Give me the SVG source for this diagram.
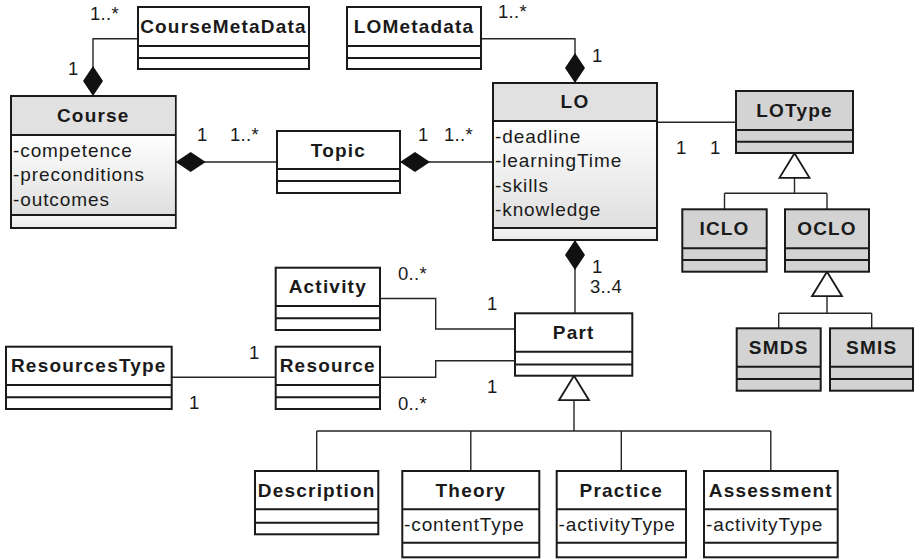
<svg xmlns="http://www.w3.org/2000/svg" width="914" height="559" viewBox="0 0 914 559">
  <style>
    .box { fill: #ffffff; stroke: #1a1a1a; stroke-width: 2; }
    .grey { fill: #d3d3d3; }
    .sep { stroke: #1a1a1a; stroke-width: 2; fill: none; }
    .title { font-family: "Liberation Sans", Arial, sans-serif; font-size: 19px; font-weight: bold; letter-spacing: 1.2px; text-anchor: middle; fill: #1a1a1a; }
    .attr { font-family: "Liberation Sans", Arial, sans-serif; font-size: 19px; letter-spacing: 0.9px; fill: #1a1a1a; }
    .mult { font-family: "Liberation Sans", Arial, sans-serif; font-size: 18.5px; letter-spacing: 0.3px; fill: #1a1a1a; }
    .link { fill: none; stroke: #262626; stroke-width: 1.4; }
    .comp { marker-start: url(#diamond); }
    .gen { marker-start: url(#triangle); }
  </style>
  <defs>
    <linearGradient id="bodyFill" x1="0" y1="0" x2="0" y2="1">
      <stop offset="0" stop-color="#ffffff"/>
      <stop offset="1" stop-color="#dfdfdf"/>
    </linearGradient>
    <linearGradient id="footFill" x1="0" y1="0" x2="0" y2="1">
      <stop offset="0" stop-color="#f6f6f6"/>
      <stop offset="1" stop-color="#ebebeb"/>
    </linearGradient>
    <!-- filled diamond: composition end, tip sits on the whole's border -->
    <marker id="diamond" markerUnits="userSpaceOnUse" viewBox="0 0 30 20" refX="0" refY="10" markerWidth="30" markerHeight="20" orient="auto" overflow="visible">
      <path d="M0,10 L15,0 L30,10 L15,20 Z" fill="#111111"/>
    </marker>
    <!-- hollow triangle: generalization end, apex on the parent's border -->
    <marker id="triangle" markerUnits="userSpaceOnUse" viewBox="0 0 25 32" refX="0" refY="16" markerWidth="25" markerHeight="32" orient="auto" overflow="visible">
      <path d="M0,16 L24.5,1 L24.5,31 Z" fill="#ffffff" stroke="#1a1a1a" stroke-width="1.8" stroke-linejoin="miter"/>
    </marker>
  </defs>

  <rect x="0" y="0" width="914" height="559" fill="#ffffff"/>

  <g id="connectors">
    <path class="link comp" d="M93,96 V38.7 H138"/>
    <path class="link comp" d="M175.7,162 H277"/>
    <path class="link comp" d="M400,162 H493"/>
    <path class="link comp" d="M575,83 V38.7 H481"/>
    <path class="link" d="M657,122.3 H736"/>
    <path class="link comp" d="M575,240 V313.3"/>
    <path class="link gen" d="M794.5,153.3 V193.3 M724.5,193.3 H827 M724.5,193.3 V209.3 M827,193.3 V209.3"/>
    <path class="link gen" d="M827,271.7 V313.3 M778.7,313.3 H871.7 M778.7,313.3 V328.3 M871.7,313.3 V328.3"/>
    <path class="link gen" d="M574,375.7 V431 M316.7,431 H770.8 M316.7,431 V471 M470.8,431 V471 M621.3,431 V471 M770.8,431 V471"/>
    <path class="link" d="M380,298.5 H435.7 V329 H515"/>
    <path class="link" d="M380,377.3 H435.7 V360.7 H515"/>
    <path class="link" d="M171.7,377.3 H275.7"/>

    <g id="multiplicities">
      <text class="mult" x="90" y="20">1..*</text>
      <text class="mult" x="68" y="75">1</text>
      <text class="mult" x="197" y="141">1</text>
      <text class="mult" x="230" y="141">1..*</text>
      <text class="mult" x="418" y="141">1</text>
      <text class="mult" x="444" y="141">1..*</text>
      <text class="mult" x="498" y="18">1..*</text>
      <text class="mult" x="592" y="62">1</text>
      <text class="mult" x="676" y="154">1</text>
      <text class="mult" x="710" y="154">1</text>
      <text class="mult" x="592" y="273">1</text>
      <text class="mult" x="590" y="293">3..4</text>
      <text class="mult" x="398" y="280">0..*</text>
      <text class="mult" x="487" y="310">1</text>
      <text class="mult" x="487" y="393">1</text>
      <text class="mult" x="398" y="410">0..*</text>
      <text class="mult" x="249" y="359">1</text>
      <text class="mult" x="189" y="409">1</text>
    </g>
  </g>

  <g id="CourseMetaData">
    <rect class="box" x="138" y="7" width="171" height="62"/>
    <path class="sep" d="M138,46 H309 M138,58 H309"/>
    <text class="title" x="223.5" y="33">CourseMetaData</text>
  </g>

  <g id="LOMetadata">
    <rect class="box" x="347" y="7" width="134" height="62"/>
    <path class="sep" d="M347,46 H481 M347,58 H481"/>
    <text class="title" x="414" y="33">LOMetadata</text>
  </g>

  <g id="Course">
    <rect class="box" x="11" y="96" width="164.7" height="132"/>
    <rect x="12" y="97" width="162.7" height="38" fill="#e1e1e1"/>
    <rect x="12" y="135" width="162.7" height="80" fill="url(#bodyFill)"/>
    <rect x="12" y="215" width="162.7" height="12" fill="url(#footFill)"/>
    <path class="sep" d="M11,135 H175.7 M11,215 H175.7"/>
    <text class="title" x="93.3" y="122">Course</text>
    <text class="attr" x="13" y="156.5">-competence</text>
    <text class="attr" x="13" y="181">-preconditions</text>
    <text class="attr" x="13" y="205.5">-outcomes</text>
  </g>

  <g id="Topic">
    <rect class="box" x="277" y="131" width="123" height="62"/>
    <path class="sep" d="M277,169 H400 M277,181 H400"/>
    <text class="title" x="338.5" y="156.5">Topic</text>
  </g>

  <g id="LO">
    <rect class="box" x="493" y="83" width="164" height="157"/>
    <rect x="494" y="84" width="162" height="37" fill="#e1e1e1"/>
    <rect x="494" y="121" width="162" height="107" fill="url(#bodyFill)"/>
    <rect x="494" y="228" width="162" height="11" fill="url(#footFill)"/>
    <path class="sep" d="M493,121 H657 M493,228 H657"/>
    <text class="title" x="575" y="108">LO</text>
    <text class="attr" x="495" y="142.5">-deadline</text>
    <text class="attr" x="495" y="167">-learningTime</text>
    <text class="attr" x="495" y="191.5">-skills</text>
    <text class="attr" x="495" y="216">-knowledge</text>
  </g>

  <g id="LOType">
    <rect class="box grey" x="736" y="91" width="117" height="62"/>
    <path class="sep" d="M736,130 H853 M736,141.7 H853"/>
    <text class="title" x="794.5" y="117">LOType</text>
  </g>

  <g id="ICLO">
    <rect class="box grey" x="682.3" y="209.3" width="84.4" height="62.4"/>
    <path class="sep" d="M682.3,248.3 H766.7 M682.3,260 H766.7"/>
    <text class="title" x="724.5" y="235">ICLO</text>
  </g>

  <g id="OCLO">
    <rect class="box grey" x="785" y="209.3" width="84" height="62.4"/>
    <path class="sep" d="M785,248.3 H869 M785,260 H869"/>
    <text class="title" x="827" y="235">OCLO</text>
  </g>

  <g id="SMDS">
    <rect class="box grey" x="736.7" y="328.3" width="84" height="62.4"/>
    <path class="sep" d="M736.7,366.7 H820.7 M736.7,379 H820.7"/>
    <text class="title" x="778.7" y="354">SMDS</text>
  </g>

  <g id="SMIS">
    <rect class="box grey" x="830" y="328.3" width="83" height="62.4"/>
    <path class="sep" d="M830,366.7 H913 M830,379 H913"/>
    <text class="title" x="871.7" y="354">SMIS</text>
  </g>

  <g id="Activity">
    <rect class="box" x="275.7" y="267.7" width="104.3" height="62.3"/>
    <path class="sep" d="M275.7,306 H380 M275.7,318.3 H380"/>
    <text class="title" x="327.8" y="293">Activity</text>
  </g>

  <g id="ResourcesType">
    <rect class="box" x="6" y="346.7" width="165.7" height="62.3"/>
    <path class="sep" d="M6,385 H171.7 M6,397.3 H171.7"/>
    <text class="title" x="88.8" y="372">ResourcesType</text>
  </g>

  <g id="Resource">
    <rect class="box" x="275.7" y="346.7" width="104.3" height="62.3"/>
    <path class="sep" d="M275.7,385 H380 M275.7,397.3 H380"/>
    <text class="title" x="327.8" y="372">Resource</text>
  </g>

  <g id="Part">
    <rect class="box" x="515" y="313.3" width="117.3" height="62.4"/>
    <path class="sep" d="M515,351.7 H632.3 M515,364.5 H632.3"/>
    <text class="title" x="573.7" y="339">Part</text>
  </g>

  <g id="Description">
    <rect class="box" x="255" y="471" width="123.3" height="63.3"/>
    <path class="sep" d="M255,509.3 H378.3 M255,522.7 H378.3"/>
    <text class="title" x="316.7" y="497">Description</text>
  </g>

  <g id="Theory">
    <rect class="box" x="402.3" y="471" width="137" height="86.3"/>
    <path class="sep" d="M402.3,509.3 H539.3 M402.3,542.7 H539.3"/>
    <text class="title" x="470.8" y="497">Theory</text>
    <text class="attr" x="404" y="531">-contentType</text>
  </g>

  <g id="Practice">
    <rect class="box" x="556.7" y="471" width="129.3" height="86.3"/>
    <path class="sep" d="M556.7,509.3 H686 M556.7,542.7 H686"/>
    <text class="title" x="621.3" y="497">Practice</text>
    <text class="attr" x="558.5" y="531">-activityType</text>
  </g>

  <g id="Assessment">
    <rect class="box" x="704" y="471" width="133.7" height="86.3"/>
    <path class="sep" d="M704,509.3 H837.7 M704,542.7 H837.7"/>
    <text class="title" x="770.8" y="497">Assessment</text>
    <text class="attr" x="706" y="531">-activityType</text>
  </g>
</svg>
